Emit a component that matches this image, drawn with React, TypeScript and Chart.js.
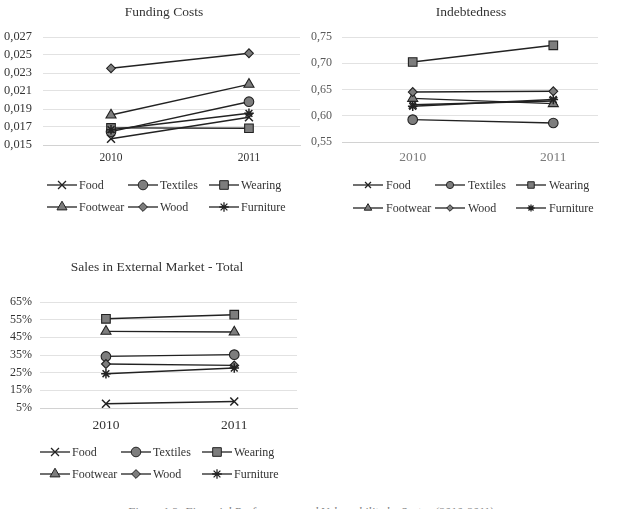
import React, { useEffect, useRef } from 'react';
import { Chart, registerables } from 'chart.js';
import { drawPoint } from 'chart.js/helpers';

Chart.register(...registerables);

// Sectors and their marker shapes
const sectors = ['Food', 'Textiles', 'Wearing', 'Footwear', 'Wood', 'Furniture'];
const markerStyles = ['crossRot', 'circle', 'rect', 'triangle', 'rectRot', 'star'];
const markerRadii = [5.6, 4.8, 6.1, 5.8, 4.4, 4.8];

const years = [2010, 2011];

// Funding costs by sector
const funding2010 = [0.0157, 0.01648, 0.0169, 0.01833, 0.02352, 0.0167];
const funding2011 = [0.01808, 0.01981, 0.01686, 0.02174, 0.02519, 0.01852];
const fundingTicks = [0.015, 0.017, 0.019, 0.021, 0.023, 0.025, 0.027];

// Indebtedness by sector
const indebt2010 = [0.621, 0.5926, 0.7024, 0.633, 0.6452, 0.618];
const indebt2011 = [0.628, 0.5862, 0.7342, 0.623, 0.6466, 0.631];
const indebtTicks = [0.55, 0.6, 0.65, 0.7, 0.75];

// Share of sales in external market
const sales2010 = [0.074, 0.342, 0.555, 0.484, 0.299, 0.244];
const sales2011 = [0.087, 0.352, 0.578, 0.48, 0.291, 0.276];
const salesTicks = [0.05, 0.15, 0.25, 0.35, 0.45, 0.55, 0.65];

const SERIF = '"Liberation Serif", "Times New Roman", serif';
const LINE = '#222222';
const FILL = '#7d7d7d';

type Area = { left: number; right: number; top: number; bottom: number };

type PanelProps = {
  left: number;
  top: number;
  width: number;
  height: number;
  title: string;
  titleX: number;
  titleY: number;
  area: Area;
  xRange: [number, number];
  first: number[];
  second: number[];
  ticks: number[];
  fmt: (v: number) => string;
  yFont: number;
  xFont: number;
  yColor: string;
  xColor: string;
  yPad: number;
  xPad: number;
  legendX: number[];
  legendY: number[];
  legendScale: number;
  legendGap: number;
};

function Panel(p: PanelProps) {
  const ref = useRef<HTMLCanvasElement | null>(null);

  useEffect(() => {
    const canvas = ref.current;
    if (!canvas) return;

    const datasets = sectors.map((name, i) => ({
      label: name,
      data: [
        { x: years[0], y: p.first[i] },
        { x: years[1], y: p.second[i] },
      ],
      borderColor: LINE,
      borderWidth: 1.4,
      pointStyle: markerStyles[i] as any,
      pointRadius: markerRadii[i],
      pointBackgroundColor: FILL,
      pointBorderColor: LINE,
      pointBorderWidth: markerStyles[i] === 'crossRot' || markerStyles[i] === 'star' ? 1.5 : 1.1,
      order: sectors.length - i,
    }));

    const overlay = {
      id: 'panelOverlay',
      afterDraw(chart: any) {
        const ctx = chart.ctx as CanvasRenderingContext2D;
        ctx.save();
        ctx.fillStyle = '#333333';
        ctx.font = `13.5px ${SERIF}`;
        ctx.textAlign = 'center';
        ctx.textBaseline = 'middle';
        ctx.fillText(p.title, p.titleX, p.titleY);

        sectors.forEach((name, i) => {
          const x = p.legendX[i % 3];
          const y = p.legendY[Math.floor(i / 3)];
          ctx.beginPath();
          ctx.strokeStyle = LINE;
          ctx.lineWidth = 1.3;
          ctx.moveTo(x, y);
          ctx.lineTo(x + 30, y);
          ctx.stroke();

          ctx.fillStyle = FILL;
          ctx.strokeStyle = LINE;
          const bw = markerStyles[i] === 'crossRot' || markerStyles[i] === 'star' ? 1.3 : 1;
          ctx.lineWidth = bw;
          drawPoint(
            ctx,
            { pointStyle: markerStyles[i] as any, radius: markerRadii[i] * p.legendScale, rotation: 0, borderWidth: bw } as any,
            x + 15,
            y
          );

          ctx.fillStyle = '#333333';
          ctx.font = `12px ${SERIF}`;
          ctx.textAlign = 'left';
          ctx.textBaseline = 'middle';
          ctx.fillText(name, x + p.legendGap, y + 0.5);
        });
        ctx.restore();
      },
    };

    const chart = new Chart(canvas, {
      type: 'line',
      data: { datasets },
      options: {
        responsive: false,
        animation: false,
        devicePixelRatio: 1,
        layout: {
          padding: {
            left: 0,
            top: p.area.top,
            right: p.width - p.area.right,
            bottom: 0,
          },
        },
        plugins: {
          legend: { display: false },
          title: { display: false },
          tooltip: { enabled: false },
        },
        scales: {
          x: {
            type: 'linear',
            min: p.xRange[0],
            max: p.xRange[1],
            afterBuildTicks: (s: any) => {
              s.ticks = years.map((v) => ({ value: v }));
            },
            afterFit: (s: any) => {
              s.height = p.height - p.area.bottom;
            },
            grid: { display: false, drawTicks: false },
            border: { display: true, color: '#d2d2d2', width: 1 },
            ticks: {
              padding: p.xPad,
              color: p.xColor,
              font: { family: SERIF, size: p.xFont },
              maxRotation: 0,
              callback: (v: any) => String(v),
            },
          },
          y: {
            type: 'linear',
            min: p.ticks[0],
            max: p.ticks[p.ticks.length - 1],
            afterBuildTicks: (s: any) => {
              s.ticks = p.ticks.map((v) => ({ value: v }));
            },
            afterFit: (s: any) => {
              s.width = p.area.left;
            },
            grid: { color: '#e2e2e2', lineWidth: 1, drawTicks: false },
            border: { display: false },
            ticks: {
              padding: p.yPad,
              color: p.yColor,
              font: { family: SERIF, size: p.yFont },
              callback: (v: any) => p.fmt(Number(v)),
            },
          },
        },
      },
      plugins: [overlay],
    });

    return () => chart.destroy();
  }, []);

  return (
    <canvas
      ref={ref}
      width={p.width}
      height={p.height}
      style={{ position: 'absolute', left: p.left, top: p.top, width: p.width, height: p.height }}
    />
  );
}

const comma = (digits: number) => (v: number) => v.toFixed(digits).replace('.', ',');
const percent = (v: number) => `${Math.round(v * 100)}%`;

export default function App() {
  return (
    <div style={{ position: 'absolute', left: 0, top: 0, width: 621, height: 509, background: '#ffffff', overflow: 'hidden' }}>
      <Panel
        left={0}
        top={0}
        width={310}
        height={230}
        title="Funding Costs"
        titleX={164}
        titleY={12}
        area={{ left: 43, right: 300, top: 37, bottom: 145 }}
        xRange={[2010 - 0.493, 2011 + 0.37]}
        first={funding2010}
        second={funding2011}
        ticks={fundingTicks}
        fmt={comma(3)}
        yFont={12.4}
        xFont={11.5}
        yColor="#333333"
        xColor="#333333"
        yPad={11}
        xPad={6}
        legendX={[47, 128, 209]}
        legendY={[185, 207]}
        legendScale={1}
        legendGap={32}
      />
      <Panel
        left={310}
        top={0}
        width={311}
        height={230}
        title="Indebtedness"
        titleX={161}
        titleY={12}
        area={{ left: 32, right: 288, top: 37, bottom: 142 }}
        xRange={[2010 - 0.503, 2011 + 0.318]}
        first={indebt2010}
        second={indebt2011}
        ticks={indebtTicks}
        fmt={comma(2)}
        yFont={12}
        xFont={13.5}
        yColor="#595959"
        xColor="#7a7a7a"
        yPad={10}
        xPad={7}
        legendX={[43, 125, 206]}
        legendY={[185, 208]}
        legendScale={0.75}
        legendGap={33}
      />
      <Panel
        left={0}
        top={250}
        width={310}
        height={240}
        title="Sales in External Market - Total"
        titleX={157}
        titleY={17}
        area={{ left: 40, right: 297, top: 52, bottom: 158 }}
        xRange={[2010 - 0.514, 2011 + 0.489]}
        first={sales2010}
        second={sales2011}
        ticks={salesTicks}
        fmt={percent}
        yFont={12}
        xFont={13.5}
        yColor="#333333"
        xColor="#333333"
        yPad={8}
        xPad={9}
        legendX={[40, 121, 202]}
        legendY={[202, 224]}
        legendScale={1}
        legendGap={32}
      />
      <div
        style={{
          position: 'absolute',
          left: 0,
          top: 505,
          width: 621,
          textAlign: 'center',
          fontFamily: SERIF,
          fontStyle: 'italic',
          fontSize: 12,
          color: '#7f7f7f',
          whiteSpace: 'nowrap',
        }}
      >
        Figure 1.3: Financial Performance and Vulnerability by Sector (2010-2011)
      </div>
    </div>
  );
}
